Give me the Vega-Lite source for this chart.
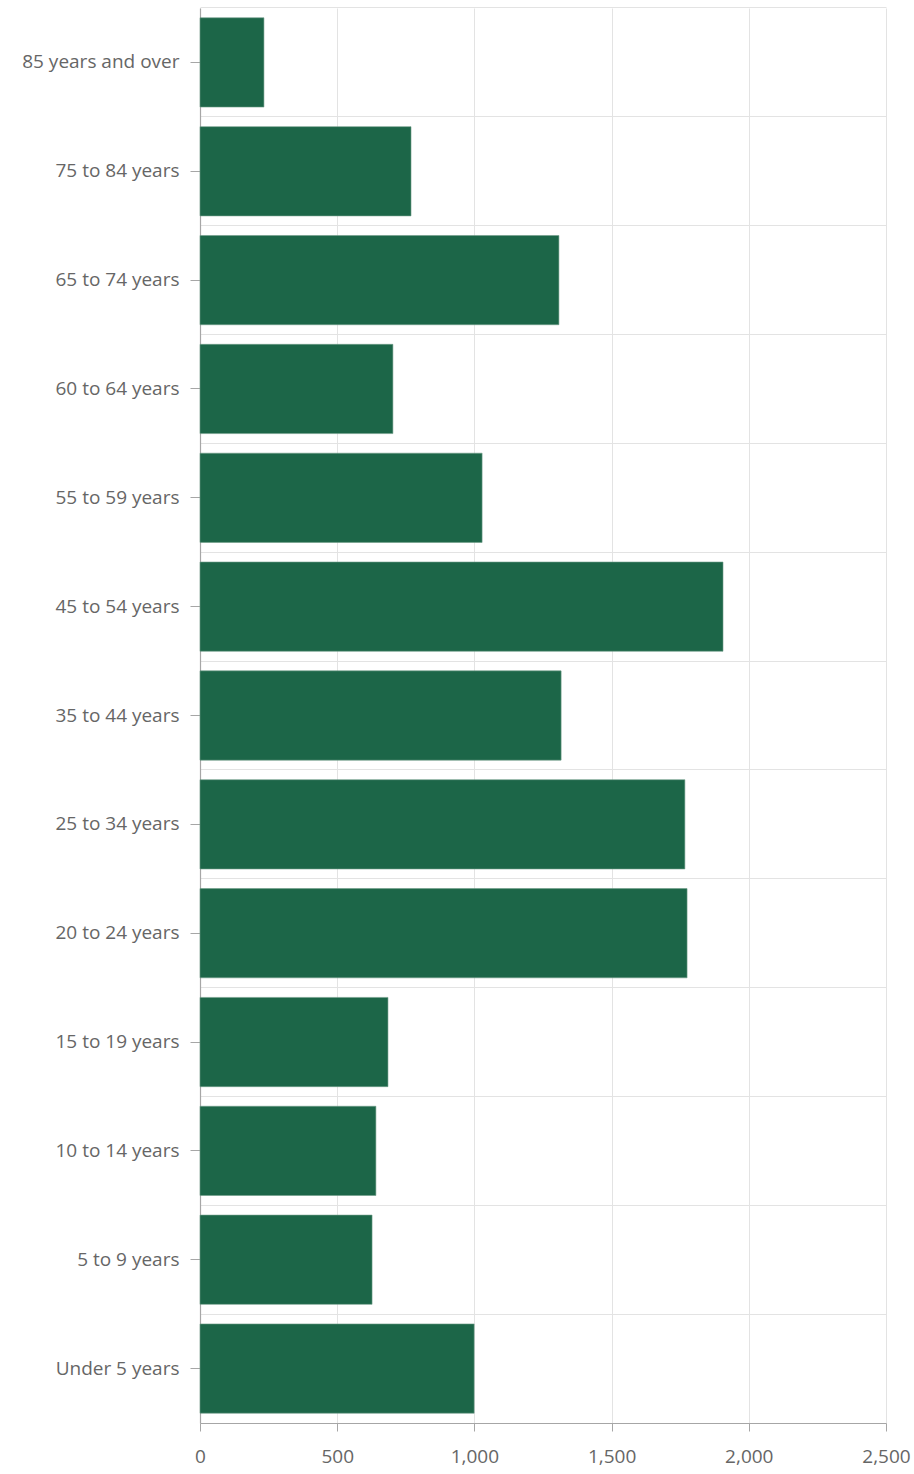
{
  "$schema": "https://vega.github.io/schema/vega-lite/v6.json",
  "autosize": "none",
  "width": 686,
  "height": 1415,
  "padding": {"left": 200, "top": 8, "right": 28, "bottom": 51},
  "background": "white",
  "config": {
    "view": {"stroke": null},
    "font": "Open Sans",
    "axis": {
      "labelFont": "Open Sans",
      "labelFontSize": 19,
      "labelColor": "#666666",
      "domainColor": "#a6a6a6",
      "tickColor": "#a6a6a6",
      "gridColor": "#e3e3e3",
      "gridWidth": 1
    }
  },
  "data": {
    "values": [
      {"age": "85 years and over", "value": 233},
      {"age": "75 to 84 years", "value": 769},
      {"age": "65 to 74 years", "value": 1308},
      {"age": "60 to 64 years", "value": 703},
      {"age": "55 to 59 years", "value": 1028},
      {"age": "45 to 54 years", "value": 1906},
      {"age": "35 to 44 years", "value": 1316},
      {"age": "25 to 34 years", "value": 1767},
      {"age": "20 to 24 years", "value": 1775},
      {"age": "15 to 19 years", "value": 685},
      {"age": "10 to 14 years", "value": 641},
      {"age": "5 to 9 years", "value": 627},
      {"age": "Under 5 years", "value": 999}
    ]
  },
  "layer": [
    {
      "mark": {"type": "bar", "color": "#1c6648", "stroke": "#6f9c88", "strokeWidth": 0.6},
      "encoding": {
        "y": {
          "field": "age",
          "type": "nominal",
          "sort": null,
          "title": null,
          "scale": {"paddingInner": 0.18, "paddingOuter": 0.09},
          "axis": {
            "orient": "left",
            "grid": true,
            "bandPosition": -0.11,
            "labels": false,
            "ticks": false,
            "domain": false
          }
        },
        "x": {
          "field": "value",
          "type": "quantitative",
          "title": null,
          "scale": {"domain": [0, 2500], "nice": false},
          "axis": {
            "values": [0, 500, 1000, 1500, 2000, 2500],
            "format": ",d",
            "grid": true,
            "tickSize": 8,
            "labelPadding": 16,
            "labelFlush": false,
            "domainWidth": 1.2
          }
        }
      }
    },
    {
      "mark": {"type": "bar", "opacity": 0},
      "encoding": {
        "y": {
          "field": "age",
          "type": "nominal",
          "sort": null,
          "title": null,
          "axis": {
            "orient": "left",
            "grid": false,
            "tickSize": 10,
            "labelPadding": 11,
            "domainWidth": 1.2
          }
        },
        "x": {"field": "value", "type": "quantitative"}
      }
    }
  ],
  "resolve": {"axis": {"y": "independent"}}
}
